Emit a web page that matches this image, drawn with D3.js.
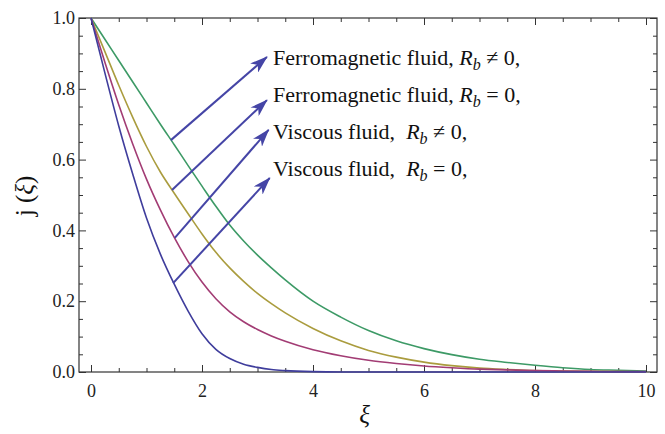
<!DOCTYPE html>
<html>
<head>
<meta charset="utf-8">
<script src="https://cdn.jsdelivr.net/npm/d3@7"></script>
<style>
  body { margin: 0; background: #fff; }
</style>
</head>
<body>
<div id="chart"></div>
<script>
// xi values sampled along the axis (finer where the curves bend)
const xi = [0, 0.25, 0.5, 0.75, 1, 1.25, 1.5, 1.75, 2, 2.25, 2.5, 2.75, 3, 3.25, 3.5, 4, 4.5, 5, 5.5, 6, 6.5, 7, 7.5, 8, 8.5, 9, 9.5, 10];

// j(xi), one list per curve
const ferroRbNonZero = [1, 0.94, 0.88, 0.82, 0.76, 0.70, 0.642, 0.583, 0.525, 0.468, 0.415, 0.37, 0.33, 0.294, 0.26, 0.20, 0.155, 0.117, 0.088, 0.066, 0.049, 0.036, 0.027, 0.019, 0.012, 0.007, 0.005, 0.003];
const ferroRbZero = [1, 0.905, 0.81, 0.72, 0.637, 0.565, 0.505, 0.447, 0.39, 0.338, 0.294, 0.256, 0.222, 0.193, 0.167, 0.123, 0.088, 0.061, 0.042, 0.028, 0.018, 0.011, 0.007, 0.004, 0.003, 0.002, 0.001, 0];
const viscousRbNonZero = [1, 0.875, 0.755, 0.645, 0.545, 0.458, 0.38, 0.312, 0.254, 0.207, 0.17, 0.142, 0.12, 0.102, 0.087, 0.063, 0.046, 0.033, 0.024, 0.017, 0.012, 0.008, 0.006, 0.004, 0.003, 0.002, 0.001, 0.001];
const viscousRbZero = [1, 0.845, 0.695, 0.56, 0.435, 0.333, 0.248, 0.172, 0.108, 0.064, 0.038, 0.022, 0.013, 0.007, 0.004, 0.001, 0, 0, 0, 0, 0, 0, 0, 0, 0, 0, 0, 0];

const seriesNames = ["Ferromagnetic fluid,", "Ferromagnetic fluid,", "Viscous fluid, ", "Viscous fluid, "];
const seriesSigns = ["\u2260", "=", "\u2260", "="];

// arrow start (on the curve) and tip, in data units
const arrowFrom = [[1.44, 0.655], [1.46, 0.514], [1.51, 0.379], [1.48, 0.251]];
const arrowTo = [[3.17, 0.89], [3.17, 0.768], [3.2, 0.684], [3.22, 0.548]];

const xTicks = [0, 2, 4, 6, 8, 10];
const yTicks = [0, 0.2, 0.4, 0.6, 0.8, 1.0];

const serif = "Liberation Serif";

function drawChart() {
    const width = 665;
    const height = 434;
    const colors = ["#3d9a66", "#aa9c3e", "#a23c74", "#3f3d9c"];
    const arrowColor = "#4545a6";

    const svg = d3.select("#chart")
        .append("svg")
        .attr("width", width)
        .attr("height", height)
        .attr("font-family", serif);

    const xScale = d3.scaleLinear().domain([0, 10]).range([91, 646]);
    const yScale = d3.scaleLinear().domain([0, 1]).range([372, 18]);

    const left = 79, right = 657, top = yScale(1), bottom = yScale(0);

    // minor ticks every 0.5 / 0.05
    const xMinor = d3.range(0, 10.01, 0.5).filter(v => v % 2 !== 0);
    const yMinor = d3.range(0, 1.001, 0.05).map(v => +v.toFixed(2)).filter(v => Math.round(v * 100) % 20 !== 0);

    const axes = svg.append("g").attr("class", "axes");

    axes.append("g")
        .attr("transform", `translate(0,${bottom})`)
        .call(d3.axisBottom(xScale).tickValues(xTicks).tickSize(-7).tickPadding(12).tickFormat(d3.format("d")));
    axes.append("g")
        .attr("transform", `translate(0,${bottom})`)
        .call(d3.axisBottom(xScale).tickValues(xMinor).tickSize(-4).tickFormat(""));
    axes.append("g")
        .attr("transform", `translate(0,${top})`)
        .call(d3.axisTop(xScale).tickValues(xTicks).tickSize(-7).tickFormat(""));
    axes.append("g")
        .attr("transform", `translate(0,${top})`)
        .call(d3.axisTop(xScale).tickValues(xMinor).tickSize(-4).tickFormat(""));

    axes.append("g")
        .attr("transform", `translate(${left},0)`)
        .call(d3.axisLeft(yScale).tickValues(yTicks).tickSize(-7).tickPadding(4).tickFormat(d3.format(".1f")));
    axes.append("g")
        .attr("transform", `translate(${left},0)`)
        .call(d3.axisLeft(yScale).tickValues(yMinor).tickSize(-4).tickFormat(""));
    axes.append("g")
        .attr("transform", `translate(${right},0)`)
        .call(d3.axisRight(yScale).tickValues(yTicks).tickSize(-7).tickFormat(""));
    axes.append("g")
        .attr("transform", `translate(${right},0)`)
        .call(d3.axisRight(yScale).tickValues(yMinor).tickSize(-4).tickFormat(""));

    axes.selectAll("g").attr("font-family", serif).attr("font-size", 18);
    axes.selectAll(".domain").remove();
    axes.selectAll(".tick line").attr("stroke", "#333").attr("stroke-width", 1);
    axes.selectAll(".tick text")
        .attr("font-family", serif)
        .attr("font-size", 18)
        .attr("fill", "#222");

    // frame
    svg.append("rect")
        .attr("x", left).attr("y", top)
        .attr("width", right - left).attr("height", bottom - top)
        .attr("fill", "none").attr("stroke", "#333").attr("stroke-width", 1.2);

    // curves
    const allSeries = [ferroRbNonZero, ferroRbZero, viscousRbNonZero, viscousRbZero];
    const line = d3.line()
        .x((d, i) => xScale(xi[i]))
        .y(d => yScale(d))
        .curve(d3.curveMonotoneX);

    svg.append("g")
        .selectAll("path")
        .data(allSeries)
        .join("path")
        .attr("d", d => line(d))
        .attr("fill", "none")
        .attr("stroke", (d, i) => colors[i])
        .attr("stroke-width", 1.6);

    // arrows
    svg.append("defs").append("marker")
        .attr("id", "head")
        .attr("viewBox", "0 0 18 12")
        .attr("refX", 17).attr("refY", 6)
        .attr("markerWidth", 18).attr("markerHeight", 12)
        .attr("markerUnits", "userSpaceOnUse")
        .attr("orient", "auto")
        .append("path")
        .attr("d", "M0,0 L18,6 L0,12 L5,6 Z")
        .attr("fill", arrowColor);

    svg.append("g")
        .selectAll("line")
        .data(arrowFrom)
        .join("line")
        .attr("x1", d => xScale(d[0]))
        .attr("y1", d => yScale(d[1]))
        .attr("x2", (d, i) => xScale(arrowTo[i][0]))
        .attr("y2", (d, i) => yScale(arrowTo[i][1]))
        .attr("stroke", arrowColor)
        .attr("stroke-width", 2)
        .attr("marker-end", "url(#head)");

    // labels next to arrows
    const labels = svg.append("g")
        .attr("font-family", serif)
        .attr("font-size", 22)
        .attr("fill", "#111");
    seriesNames.forEach((name, i) => {
        const t = labels.append("text")
            .attr("x", 273)
            .attr("y", 65 + i * 37)
            .attr("xml:space", "preserve");
        t.append("tspan").text(name + " ");
        t.append("tspan").attr("font-style", "italic").text("R");
        t.append("tspan").attr("font-style", "italic").attr("font-size", 16).attr("dy", 5).text("b");
        t.append("tspan").attr("dy", -5).text(" " + seriesSigns[i] + " 0,");
    });

    // axis titles
    const yTitle = svg.append("text")
        .attr("transform", "translate(33,196) rotate(-90)")
        .attr("text-anchor", "middle")
        .attr("font-family", serif)
        .attr("font-size", 25)
        .attr("fill", "#111")
        .attr("xml:space", "preserve");
    yTitle.append("tspan").text("j (");
    yTitle.append("tspan").attr("font-style", "italic").text("\u03BE");
    yTitle.append("tspan").text(")");

    svg.append("text")
        .attr("x", (xScale(0) + xScale(10)) / 2 - 4)
        .attr("y", 423)
        .attr("text-anchor", "middle")
        .attr("font-family", serif)
        .attr("font-size", 25)
        .attr("font-style", "italic")
        .attr("fill", "#111")
        .text("\u03BE");
}

document.addEventListener("DOMContentLoaded", drawChart);
</script>
</body>
</html>
